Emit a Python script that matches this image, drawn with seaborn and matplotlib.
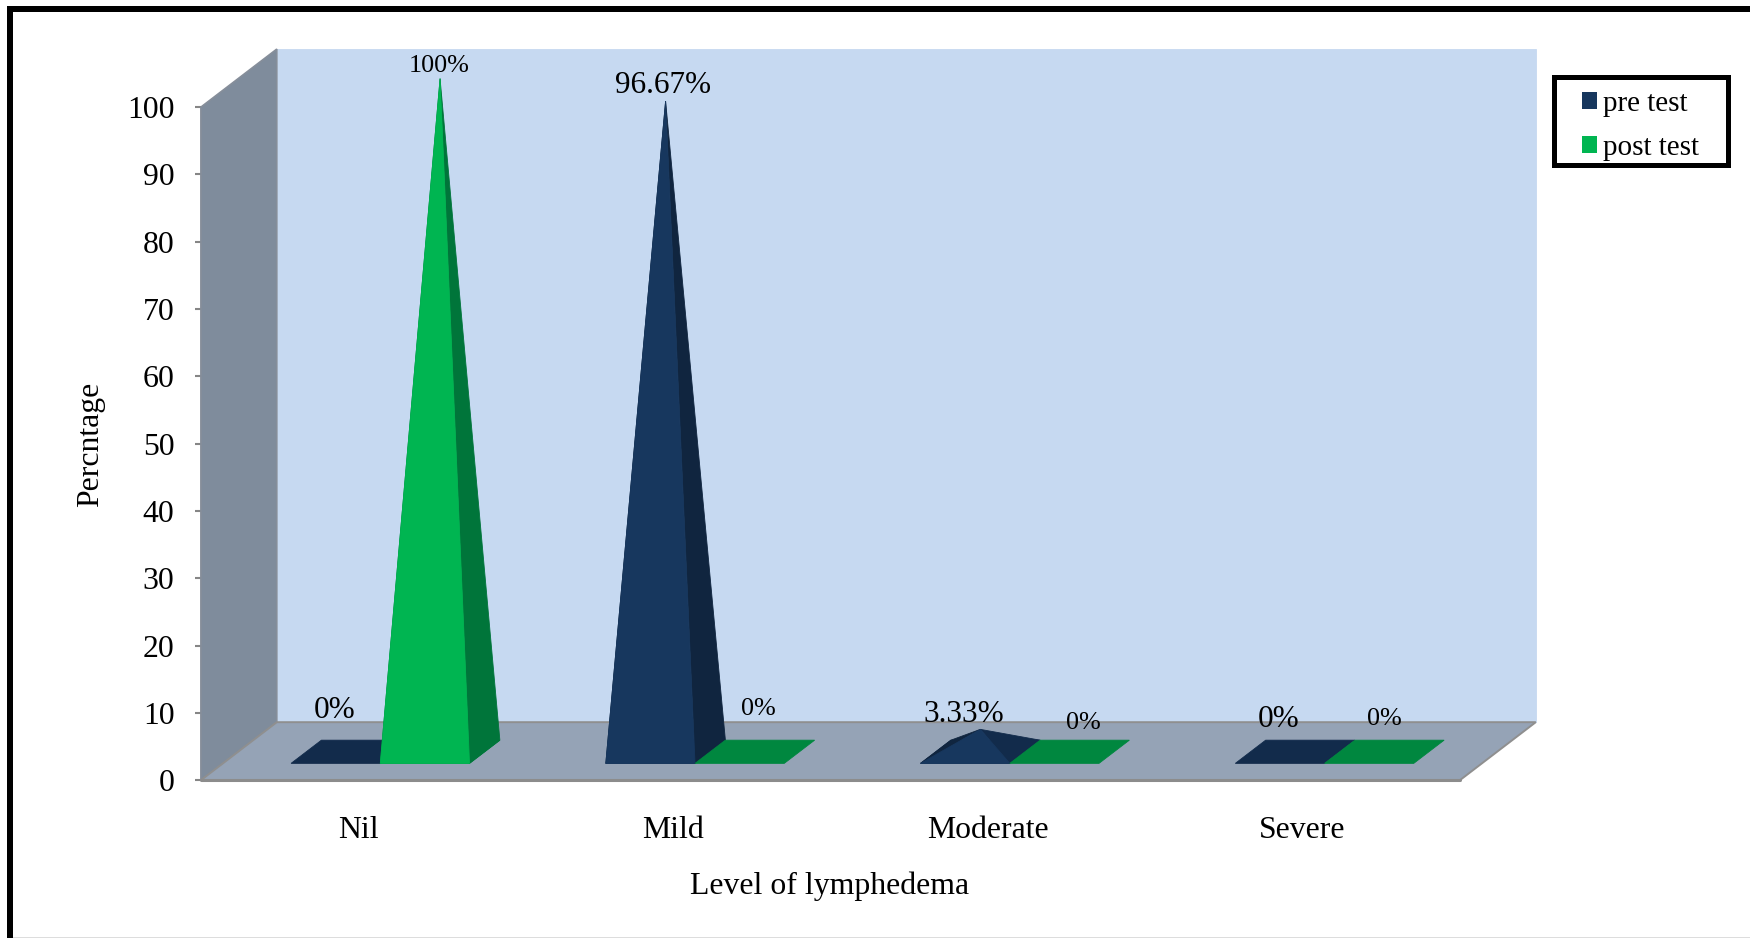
import matplotlib
matplotlib.use("Agg")
import matplotlib.pyplot as plt
from matplotlib.patches import Polygon, Patch, Rectangle
import pandas as pd
import seaborn as sns

categories = ["Nil", "Mild", "Moderate", "Severe"]
pre_test = [0, 96.67, 3.33, 0]
post_test = [100, 0, 0, 0]
pre_labels = ["0%", "96.67%", "3.33%", "0%"]
post_labels = ["100%", "0%", "0%", "0%"]
series_names = ["pre test", "post test"]
y_ticks = list(range(0, 101, 10))

W, H = 1750, 938
sns.set_theme(style="white")
plt.rcParams["font.family"] = ["Liberation Serif", "DejaVu Serif"]

# style / 3-D projection constants
DX, DY = 0.2411, 8.62          # full floor depth, in data units
D_FRONT, D_BACK = 0.29, 0.69   # pyramid base extents along the depth
D_MID = (D_FRONT + D_BACK) / 2
COL = {
    "pre test": dict(front="#17375E", side="#10253F", left="#10253F", base="#122B4B"),
    "post test": dict(front="#00B551", side="#00753A", left="#00753A", base="#00873F"),
}
LABEL_SIZE = {"pre test": 22.5, "post test": 18.8}
LABEL_OFF = {"pre test": [(-16, 41), (-3, 16), (-17, 15), (-16, 32)],
             "post test": [(-1, 13), (4, 43), (14, 29), (0, 33)]}
AXIS_FONT = 22.9

df = pd.DataFrame({
    "level": categories * 2,
    "value": pre_test + post_test,
    "series": [series_names[0]] * 4 + [series_names[1]] * 4,
})

fig = plt.figure(figsize=(W / 100, H / 100), dpi=100, facecolor="white")
ax = fig.add_axes([200.9 / W, 1 - 780.2 / H, 1259 / W, 673.1 / H])
sns.barplot(data=df, x="level", y="value", hue="series", order=categories,
            hue_order=series_names, width=0.567, gap=0, errorbar=None,
            legend=False, ax=ax, palette=[COL[s]["front"] for s in series_names])
ax.set_xlim(-0.5, 3.5)
ax.set_ylim(0, 100)
ax.patch.set_visible(False)
for s in ax.spines.values():
    s.set_visible(False)


def P(x, y, d):
    return (x + d * DX, y + d * DY)


def poly(pts, color, z, edge=None, lw=0.6):
    ax.add_patch(Polygon(pts, closed=True, facecolor=color, edgecolor=edge or color,
                         linewidth=lw, clip_on=False, zorder=z))


x0, x1 = ax.get_xlim()
# back wall, side wall, floor
poly([P(x0, 0, 1), P(x1, 0, 1), P(x1, 100, 1), P(x0, 100, 1)], "#C6D9F1", 1, "#C6D9F1")
poly([P(x0, 0, 0), P(x0, 100, 0), P(x0, 100, 1), P(x0, 0, 1)], "#7F8C9C", 1.1, "#868E9A", 1.2)
poly([P(x0, 0, 0), P(x1, 0, 0), P(x1, 0, 1), P(x0, 0, 1)], "#95A3B6", 1.2, "#8F8F8F", 1.4)
ax.plot([x0, x1], [0, 0], color="#8C8C8C", lw=2.2, zorder=1.3, clip_on=False)

# pyramids: geometry is taken from the bars seaborn has laid out
z = 3
for j in range(len(categories)):
    for i, name in enumerate(series_names):
        rect = ax.containers[i][j]
        l, r, h = rect.get_x(), rect.get_x() + rect.get_width(), rect.get_height()
        c = COL[name]
        apex = P((l + r) / 2, h, D_MID)
        poly([P(l, 0, D_FRONT), P(r, 0, D_FRONT), P(r, 0, D_BACK), P(l, 0, D_BACK)], c["base"], z)
        if h > 0:
            poly([P(l, 0, D_FRONT), P(l, 0, D_BACK), apex], c["left"], z + 0.1)
            # a flat pyramid catches more light on its right face
            poly([P(r, 0, D_FRONT), P(r, 0, D_BACK), apex], c["side"] if h > 10 else c["base"], z + 0.2)
            poly([P(l, 0, D_FRONT), P(r, 0, D_FRONT), apex], c["front"], z + 0.3)
        text = (pre_labels if i == 0 else post_labels)[j]
        ax.annotate(text, xy=apex, xytext=LABEL_OFF[name][j], textcoords="offset pixels",
                    ha="center", va="center", fontsize=LABEL_SIZE[name], color="black",
                    zorder=20, annotation_clip=False)
        rect.set_visible(False)
        z += 1

ax.set_yticks(y_ticks)
ax.set_xlabel("Level of lymphedema", fontsize=AXIS_FONT, va="center", color="black")
ax.set_ylabel("Percntage", fontsize=AXIS_FONT, va="center", color="black")
ax.xaxis.set_label_coords(0.499, -0.158)
ax.yaxis.set_label_coords(-0.0875, 0.499)
ax.tick_params(axis="x", length=0, pad=26, labelsize=AXIS_FONT, labelcolor="black")
ax.tick_params(axis="y", left=True, length=4, width=1.5, color="#868686", pad=15,
               labelsize=AXIS_FONT, labelcolor="black")

handles = [Patch(facecolor=COL[s]["front"], edgecolor="none") for s in series_names]
leg = fig.legend(handles, series_names, loc="upper left",
                 bbox_to_anchor=(1582 / W, 1 - 91 / H), bbox_transform=fig.transFigure,
                 fontsize=21, frameon=False, labelcolor="black",
                 handlelength=0.52, handleheight=0.52, handletextpad=0.2,
                 labelspacing=0.62, borderpad=0, borderaxespad=0)

# legend frame
fig.add_artist(Rectangle((1553.5 / W, 1 - 165.5 / H), 174 / W, 88 / H, transform=fig.transFigure,
                         facecolor="none", edgecolor="black", lw=3.6))

# outer frame
fig.add_artist(Rectangle((7 / W, 0), 6 / W, 1 - 6 / H, transform=fig.transFigure, color="black", lw=0))
fig.add_artist(Rectangle((7 / W, 1 - 12 / H), 1 - 7 / W, 6 / H, transform=fig.transFigure, color="black", lw=0))
fig.add_artist(Rectangle((13 / W, 0), 1 - 13 / W, 1.5 / H, transform=fig.transFigure, color="#DDDDDD", lw=0))

fig.savefig("out.png", dpi=100, facecolor="white")
